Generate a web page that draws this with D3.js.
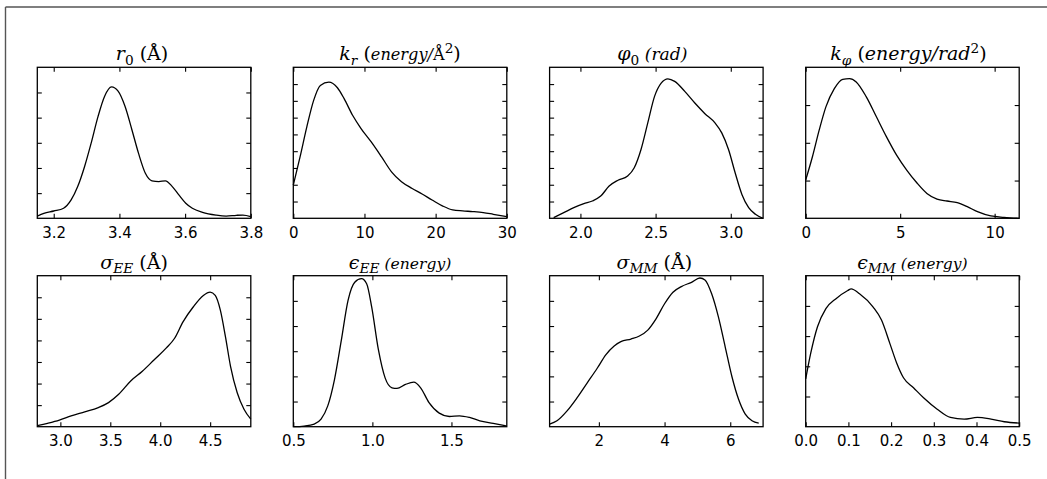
<!DOCTYPE html>
<html>
<head>
<meta charset="utf-8">
<script src="https://cdn.jsdelivr.net/npm/d3@7"></script>
<style>
  html, body { margin: 0; padding: 0; background: #fff; }
  svg { display: block; }
  .tick-label { font-family: "DejaVu Sans", sans-serif; font-size: 15px; fill: #000; }
  .title { font-family: "DejaVu Serif", serif; fill: #000; }
</style>
</head>
<body>
<svg id="fig" width="1047" height="479"></svg>
<script>
// ---- Kernel density curves of the fitted parameters ----

// r0 (Å)
const r0X = [3.15, 3.17, 3.20, 3.23, 3.253, 3.273, 3.294, 3.314, 3.335, 3.355, 3.376, 3.396, 3.417, 3.438, 3.458, 3.479, 3.499, 3.52, 3.54, 3.561, 3.581, 3.602, 3.622, 3.653, 3.694, 3.725, 3.756, 3.776, 3.80];
const r0Y = [0.09, 0.20, 0.29, 0.40, 0.73, 1.26, 2.06, 2.99, 4.05, 4.85, 5.22, 5.05, 4.45, 3.52, 2.59, 1.79, 1.49, 1.46, 1.49, 1.26, 0.93, 0.60, 0.40, 0.24, 0.13, 0.09, 0.12, 0.13, 0.07];

// k_r (energy/Å^2)
const krX = [0, 0.95, 1.9, 2.86, 3.8, 5.0, 6.2, 7.14, 8.33, 9.52, 10.95, 12.4, 13.8, 15.2, 16.7, 18.1, 19.5, 21.0, 22.4, 23.8, 25.2, 26.7, 28.1, 30];
const krY = [0.0198, 0.0366, 0.0545, 0.0703, 0.0792, 0.0812, 0.0778, 0.0713, 0.0614, 0.0535, 0.0455, 0.0366, 0.0277, 0.0218, 0.0178, 0.0145, 0.0109, 0.0073, 0.005, 0.0044, 0.004, 0.0034, 0.0024, 0.001];

// phi0 (rad)
const phi0X = [1.822, 1.889, 1.956, 2.023, 2.079, 2.135, 2.191, 2.247, 2.314, 2.358, 2.403, 2.448, 2.493, 2.537, 2.582, 2.627, 2.694, 2.761, 2.828, 2.895, 2.94, 2.985, 3.029, 3.074, 3.119, 3.164, 3.215];
const phi0Y = [0.008, 0.067, 0.127, 0.174, 0.206, 0.265, 0.384, 0.451, 0.503, 0.602, 0.82, 1.137, 1.453, 1.612, 1.663, 1.632, 1.513, 1.374, 1.247, 1.137, 1.018, 0.82, 0.543, 0.285, 0.127, 0.048, 0.0];

// k_phi (energy/rad^2)
const kphiX = [0, 0.356, 0.713, 1.069, 1.515, 1.96, 2.317, 2.673, 3.208, 3.742, 4.277, 4.811, 5.346, 5.88, 6.415, 6.95, 7.48, 8.02, 8.55, 9.09, 9.8, 10.5, 11.3];
const kphiY = [0.0507, 0.0815, 0.1167, 0.1476, 0.1718, 0.1841, 0.185, 0.1806, 0.1608, 0.1344, 0.1079, 0.0837, 0.0639, 0.0471, 0.033, 0.0255, 0.0229, 0.0207, 0.0154, 0.0088, 0.0031, 0.0013, 0.0];

// sigma_EE (Å)
const sigEEX = [2.769, 2.871, 2.99, 3.108, 3.244, 3.38, 3.482, 3.584, 3.702, 3.821, 3.94, 4.059, 4.144, 4.228, 4.33, 4.432, 4.5, 4.551, 4.602, 4.653, 4.704, 4.771, 4.839, 4.907];
const sigEEY = [0.009, 0.031, 0.061, 0.101, 0.138, 0.177, 0.223, 0.30, 0.422, 0.514, 0.621, 0.728, 0.82, 0.972, 1.11, 1.217, 1.248, 1.217, 1.08, 0.835, 0.56, 0.315, 0.162, 0.07];

// epsilon_EE (energy)
const epsEEX = [0.5, 0.5685, 0.6321, 0.6755, 0.7179, 0.7604, 0.8038, 0.8462, 0.8886, 0.931, 0.9638, 0.9956, 1.0381, 1.0805, 1.1239, 1.1557, 1.2088, 1.2618, 1.3052, 1.3582, 1.4228, 1.4865, 1.5511, 1.6147, 1.6793, 1.7642, 1.85];
const epsEEY = [0.0, 0.013, 0.052, 0.151, 0.413, 0.937, 1.72, 2.51, 2.87, 2.94, 2.84, 2.38, 1.53, 0.97, 0.773, 0.76, 0.839, 0.885, 0.773, 0.478, 0.269, 0.203, 0.216, 0.183, 0.118, 0.066, 0.013];

// sigma_MM (Å)
const sigMMX = [0.5, 0.725, 1.032, 1.339, 1.646, 1.954, 2.21, 2.466, 2.67, 2.977, 3.233, 3.489, 3.745, 4.0, 4.256, 4.512, 4.82, 5.076, 5.23, 5.434, 5.639, 5.844, 6.048, 6.253, 6.457, 6.662, 6.867];
const sigMMY = [0.0052, 0.0118, 0.0314, 0.0577, 0.0871, 0.1166, 0.1428, 0.1605, 0.169, 0.1742, 0.1801, 0.1919, 0.2148, 0.2443, 0.2672, 0.2784, 0.2869, 0.2954, 0.2915, 0.264, 0.2181, 0.1592, 0.1002, 0.0544, 0.0249, 0.0118, 0.0072];

// epsilon_MM (energy)
const epsMMX = [0, 0.0118, 0.0276, 0.0473, 0.071, 0.0986, 0.1065, 0.126, 0.158, 0.1775, 0.197, 0.213, 0.229, 0.2525, 0.276, 0.308, 0.339, 0.371, 0.402, 0.434, 0.465, 0.5];
const epsMMY = [1.584, 2.435, 3.31, 3.91, 4.24, 4.51, 4.565, 4.40, 3.96, 3.53, 2.76, 2.11, 1.62, 1.29, 0.96, 0.58, 0.306, 0.251, 0.306, 0.251, 0.164, 0.12];

// axis limits and tick values
const xDomains = [[3.15, 3.8], [0, 30], [1.795, 3.215], [0, 11.3], [2.769, 4.907], [0.5, 1.85], [0.5, 7.0], [0, 0.5]];
const yDomains = [[0, 6], [0, 0.09], [0, 1.8], [0, 0.2], [0, 1.4], [0, 3.0], [0, 0.3], [0, 5]];
const xTicks = [[3.2, 3.4, 3.6, 3.8], [0, 10, 20, 30], [2.0, 2.5, 3.0], [0, 5, 10], [3.0, 3.5, 4.0, 4.5], [0.5, 1.0, 1.5], [2, 4, 6], [0.0, 0.1, 0.2, 0.3, 0.4, 0.5]];
const xTickFormats = [".1f", "d", ".1f", "d", ".1f", ".1f", "d", ".1f"];
const yTickCounts = [6, 9, 9, 4, 7, 6, 6, 5];

// panel titles: math-style segments (i = italic, sub/sup = script, s = size factor)
const titles = [
  [{t: "r", i: 1}, {t: "0", sub: 1}, {t: " (Å)"}],
  [{t: "k", i: 1}, {t: "r", i: 1, sub: 1}, {t: " ("}, {t: "energy/", i: 1, s: 0.85}, {t: "Å", s: 0.85}, {t: "2", sup: 1}, {t: ")"}],
  [{t: "φ", i: 1}, {t: "0", sub: 1}, {t: " (rad)", i: 1, s: 0.9}],
  [{t: "k", i: 1}, {t: "φ", i: 1, sub: 1}, {t: " ("}, {t: "energy/rad", i: 1}, {t: "2", sup: 1}, {t: ")"}],
  [{t: "σ", i: 1}, {t: "EE", i: 1, sub: 1}, {t: " (Å)"}],
  [{t: "ϵ", i: 1}, {t: "EE", i: 1, sub: 1}, {t: " (energy)", i: 1, s: 0.82}],
  [{t: "σ", i: 1}, {t: "MM", i: 1, sub: 1}, {t: " (Å)"}],
  [{t: "ϵ", i: 1}, {t: "MM", i: 1, sub: 1}, {t: " (energy)", i: 1, s: 0.82}]
];

const seriesX = [r0X, krX, phi0X, kphiX, sigEEX, epsEEX, sigMMX, epsMMX];
const seriesY = [r0Y, krY, phi0Y, kphiY, sigEEY, epsEEY, sigMMY, epsMMY];

// ---- layout ----
const svg = d3.select("#fig");
const colLeft = [37.3, 293.3, 549.6, 805.7];
const rowTop = [67.3, 275.7];
const pw = 213.5, ph = 151;
const tickLen = 4.5;
const titleSize = 19;
const titleShift = [-2, 0, -4, -4, -10, 0, -2, 0];

// figure frame
svg.append("line").attr("x1", 5.5).attr("x2", 1047).attr("y1", 7).attr("y2", 7)
  .attr("stroke", "#000").attr("stroke-width", 1.2);
svg.append("line").attr("x1", 5.5).attr("x2", 5.5).attr("y1", 7).attr("y2", 479)
  .attr("stroke", "#555").attr("stroke-width", 1.4);

seriesX.forEach((xs, k) => {
  const left = colLeft[k % 4], top = rowTop[Math.floor(k / 4)];
  const g = svg.append("g").attr("transform", `translate(${left},${top})`);
  const x = d3.scaleLinear().domain(xDomains[k]).range([0, pw]);
  const y = d3.scaleLinear().domain(yDomains[k]).range([ph, 0]);
  const yt = d3.range(1, yTickCounts[k]).map(i => yDomains[k][0] + i * (yDomains[k][1] - yDomains[k][0]) / yTickCounts[k]);

  // density curve
  const pts = xs.map((v, i) => [v, seriesY[k][i]]);
  g.append("path")
    .attr("d", d3.line().x(d => x(d[0])).y(d => y(d[1])).curve(d3.curveMonotoneX)(pts))
    .attr("fill", "none").attr("stroke", "#000").attr("stroke-width", 1.3);

  // inward ticks on all four sides
  const fmt = d3.format(xTickFormats[k]);
  const xb = d3.axisBottom(x).tickValues(xTicks[k]).tickSize(-tickLen).tickFormat(fmt).tickPadding(9);
  const xtop = d3.axisTop(x).tickValues(xTicks[k]).tickSize(-tickLen).tickFormat("");
  const yl = d3.axisLeft(y).tickValues(yt).tickSize(-tickLen).tickFormat("");
  const yr = d3.axisRight(y).tickValues(yt).tickSize(-tickLen).tickFormat("");

  const gb = g.append("g").attr("transform", `translate(0,${ph})`).call(xb);
  const gt = g.append("g").call(xtop);
  const gl = g.append("g").call(yl);
  const gr = g.append("g").attr("transform", `translate(${pw},0)`).call(yr);
  [gb, gt, gl, gr].forEach(a => {
    a.select(".domain").remove();
    a.selectAll(".tick line").attr("stroke", "#000").attr("stroke-width", 1.1);
  });
  gb.selectAll(".tick text").attr("class", "tick-label").attr("fill", "#000").attr("dy", "0.71em")
    .style("font-family", "DejaVu Sans").style("font-size", "15px");

  // axes frame
  g.append("rect").attr("width", pw).attr("height", ph)
    .attr("fill", "none").attr("stroke", "#000").attr("stroke-width", 1.3);

  // title
  const txt = g.append("text").attr("class", "title")
    .attr("x", pw / 2 + titleShift[k]).attr("y", -7).attr("text-anchor", "middle")
    .style("font-size", titleSize + "px");
  let shift = 0;
  titles[k].forEach(seg => {
    const size = titleSize * (seg.s || 1) * (seg.sub || seg.sup ? 0.72 : 1);
    const target = seg.sub ? 4.5 : seg.sup ? -7.5 : 0;
    txt.append("tspan")
      .attr("dy", target - shift)
      .style("font-style", seg.i ? "italic" : "normal")
      .style("font-size", size + "px")
      .text(seg.t);
    shift = target;
  });
});
</script>
</body>
</html>
